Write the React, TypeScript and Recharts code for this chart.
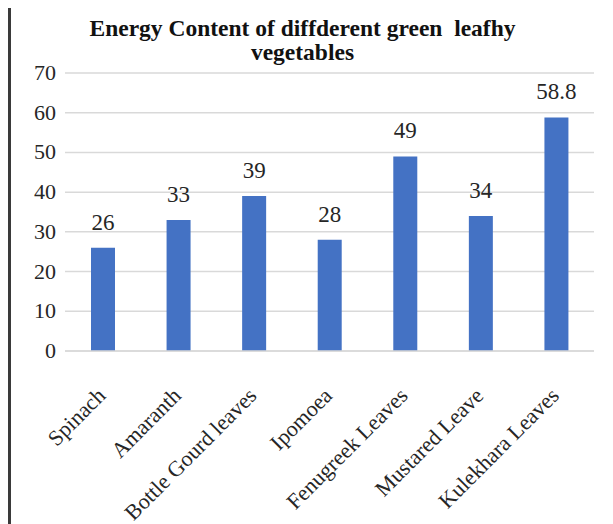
import React from "react";
import { BarChart, Bar, XAxis, YAxis, CartesianGrid, LabelList } from "recharts";

const categories = [
  "Spinach",
  "Amaranth",
  "Bottle Gourd leaves",
  "Ipomoea",
  "Fenugreek Leaves",
  "Mustared Leave",
  "Kulekhara Leaves",
];
const energyValues = [26, 33, 39, 28, 49, 34, 58.8];
const yTicks = [0, 10, 20, 30, 40, 50, 60, 70];
const titleLines = ["Energy Content of diffderent green  leafhy", "vegetables"];

const data = categories.map((name, i) => ({ name, value: energyValues[i] }));

const FONT = "'Times New Roman', 'Liberation Serif', serif";

const XTick = (props: any) => {
  const { x, y, payload } = props;
  return (
    <g transform={`translate(${x + 4},${y + 38})`}>
      <text
        x={0}
        y={0}
        textAnchor="end"
        transform="rotate(-45)"
        style={{ fontFamily: FONT, fontSize: 22, fill: "#262626" }}
      >
        {payload.value}
      </text>
    </g>
  );
};

const YTick = (props: any) => {
  const { x, y, payload } = props;
  return (
    <text
      x={x - 1}
      y={y}
      dy={7}
      textAnchor="end"
      style={{ fontFamily: FONT, fontSize: 22, fill: "#262626" }}
    >
      {payload.value}
    </text>
  );
};

const ValueLabel = (props: any) => {
  const { x, y, width, value } = props;
  return (
    <text
      x={x + width / 2}
      y={y - 18}
      textAnchor="middle"
      style={{ fontFamily: FONT, fontSize: 23, fill: "#262626" }}
    >
      {value}
    </text>
  );
};

export default function App() {
  return (
    <div
      style={{
        position: "relative",
        marginTop: -3,
        width: 603,
        height: 520,
        borderTop: "3px solid #3a3a3a",
        borderLeft: "3px solid #3a3a3a",
        background: "#fff",
        overflow: "hidden",
        fontFamily: FONT,
      }}
    >
      <div
        style={{
          position: "absolute",
          left: 0,
          top: 8,
          width: 583,
          textAlign: "center",
          fontFamily: FONT,
          fontWeight: "bold",
          fontSize: 23.5,
          lineHeight: "24px",
          color: "#111",
          whiteSpace: "pre",
        }}
      >
        {titleLines[0]}
        <br />
        {titleLines[1]}
      </div>
      <BarChart
        width={603}
        height={517}
        data={data}
        margin={{ top: 65, right: 20, bottom: 144, left: 0 }}
        style={{ fontFamily: FONT }}
      >
        <CartesianGrid vertical={false} stroke="#d9d9d9" strokeWidth={1.5} />
        <XAxis
          dataKey="name"
          height={30}
          interval={0}
          tickLine={false}
          axisLine={{ stroke: "#d9d9d9", strokeWidth: 1.5 }}
          tick={<XTick />}
        />
        <YAxis
          width={54}
          domain={[0, 70]}
          ticks={yTicks}
          interval={0}
          tickLine={false}
          axisLine={false}
          tick={<YTick />}
        />
        <Bar dataKey="value" fill="#4472C4" barSize={24} isAnimationActive={false}>
          <LabelList dataKey="value" content={<ValueLabel />} />
        </Bar>
      </BarChart>
    </div>
  );
}
